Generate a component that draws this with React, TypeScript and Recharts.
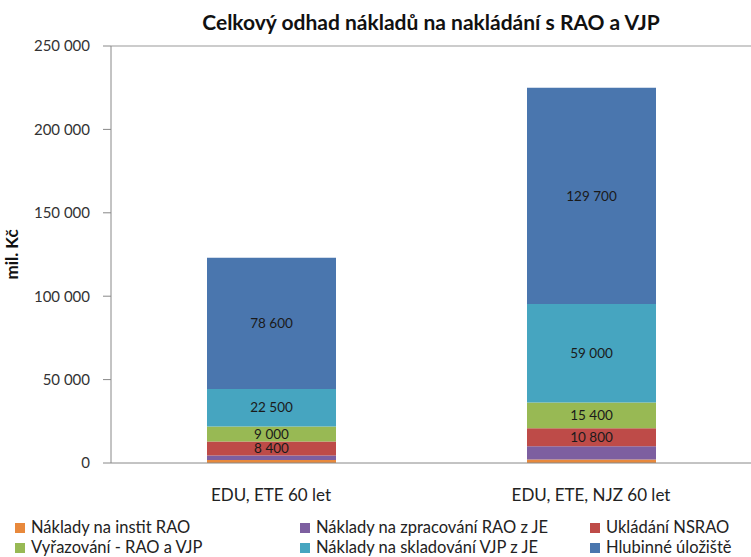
import { BarChart, Bar, XAxis, YAxis, ReferenceLine, LabelList } from "recharts";

const scenarios = ["EDU, ETE 60 let", "EDU, ETE, NJZ 60 let"];

const institRao = [1800, 2100];
const zpracovaniRao = [2700, 8000];
const ukladaniNsrao = [8400, 10800];
const vyrazovani = [9000, 15400];
const skladovaniVjp = [22500, 59000];
const hlubinneUloziste = [78600, 129700];

const yTicks = [0, 50000, 100000, 150000, 200000, 250000];

const series = [
  { key: "instit", name: "Náklady na instit RAO", values: institRao, color: "#E8893C", label: false },
  { key: "zprac", name: "Náklady na zpracování RAO z JE", values: zpracovaniRao, color: "#7D5FA0", label: false },
  { key: "nsrao", name: "Ukládání NSRAO", values: ukladaniNsrao, color: "#BE4B48", label: true },
  { key: "vyraz", name: "Vyřazování - RAO a VJP", values: vyrazovani, color: "#98B954", label: true },
  { key: "sklad", name: "Náklady na skladování VJP z JE", values: skladovaniVjp, color: "#46A5C0", label: true },
  { key: "hlub", name: "Hlubinné úložiště", values: hlubinneUloziste, color: "#4A76AE", label: true },
];

// legend: 3 columns x 2 rows
const legendOrder = ["instit", "zprac", "nsrao", "vyraz", "sklad", "hlub"];
const legendCols = [15, 300, 590];

const data = scenarios.map((name, i) => {
  const row: Record<string, string | number> = { name };
  series.forEach((s) => (row[s.key] = s.values[i]));
  return row;
});

const fmt = (v: number) => String(v).replace(/\B(?=(\d{3})+(?!\d))/g, " ");

const FONT = "Lato, 'Open Sans', sans-serif";

export default function App() {
  return (
    <div style={{ position: "relative", width: 751, height: 557, fontFamily: FONT, background: "#fff", overflow: "hidden" }}>
      <style>{`body{margin:0}`}</style>
      <div
        style={{
          position: "absolute",
          top: 9,
          left: 111,
          width: 640,
          textAlign: "center",
          fontWeight: 700,
          fontSize: 21,
          lineHeight: "26px",
          color: "#111",
        }}
      >
        Celkový odhad nákladů na nakládání s RAO a VJP
      </div>
      <BarChart width={751} height={523} data={data} margin={{ top: 46, right: 0, left: 0, bottom: 0 }}>
        <YAxis
          width={111}
          domain={[0, 250000]}
          ticks={yTicks}
          tickFormatter={fmt}
          tick={{ fill: "#333", fontSize: 15, fontFamily: FONT }}
          axisLine={{ stroke: "#888" }}
          tickLine={{ stroke: "#888" }}
          tickSize={8}
          tickMargin={13}
          label={{
            value: "mil. Kč",
            angle: -90,
            position: "insideLeft",
            offset: 12,
            style: { fontWeight: 700, fontSize: 17, fill: "#111", fontFamily: FONT, textAnchor: "middle" },
          }}
        />
        <XAxis
          dataKey="name"
          height={60}
          tick={{ fill: "#222", fontSize: 17, fontFamily: FONT }}
          axisLine={{ stroke: "#888" }}
          tickLine={false}
          tickMargin={20}
        />
        <ReferenceLine y={250000} stroke="#999" />
        {series.map((s) => (
          <Bar key={s.key} dataKey={s.key} name={s.name} stackId="a" fill={s.color} barSize={129} isAnimationActive={false}>
            {s.label && (
              <LabelList
                dataKey={s.key}
                position="center"
                formatter={(v: number) => fmt(v)}
                style={{ fill: "#1a1a1a", fontSize: 13.5, fontFamily: FONT }}
              />
            )}
          </Bar>
        ))}
      </BarChart>
      {legendOrder.map((k, i) => {
        const s = series.find((x) => x.key === k)!;
        const col = i % 3;
        const row = Math.floor(i / 3);
        return (
          <div
            key={k}
            style={{
              position: "absolute",
              left: legendCols[col],
              top: 518 + row * 20,
              height: 19,
              lineHeight: "19px",
              display: "flex",
              alignItems: "center",
              fontSize: 16.5,
              color: "#222",
              whiteSpace: "nowrap",
            }}
          >
            <span style={{ width: 10, height: 10, background: s.color, marginRight: 6, display: "inline-block" }} />
            {s.name}
          </div>
        );
      })}
    </div>
  );
}
